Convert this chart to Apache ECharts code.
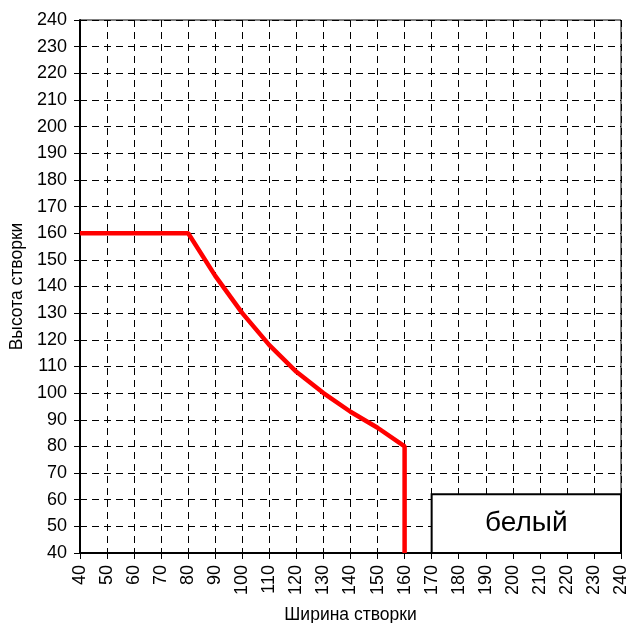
<!DOCTYPE html>
<html>
<head>
<meta charset="utf-8">
<script src="https://cdn.jsdelivr.net/npm/echarts@6/dist/echarts.min.js"></script>
<style>html,body{margin:0;padding:0;background:#fff;}#c{width:630px;height:623px;}</style>
</head>
<body>
<div id="c"></div>
<script>
var xName = 'Ширина створки';
var yName = 'Высота створки';
var widths = [40, 80, 90, 100, 110, 120, 130, 140, 150, 160, 160];
var heights = [160, 160, 144, 130, 118, 108, 100, 93, 87, 80, 40];
var boxLabel = 'белый';
var boxFrom = [170, 40];
var boxTo = [240, 62];

var lineData = widths.map(function (w, i) { return [w, heights[i]]; });
var font = 'Liberation Sans, Arial, sans-serif';
var chart = echarts.init(document.getElementById('c'));
chart.setOption({
  animation: false,
  backgroundColor: '#fff',
  grid: { left: 80, top: 20, right: 9, bottom: 70, containLabel: false, outerBoundsMode: 'none', show: true, borderColor: '#000', borderWidth: 1, backgroundColor: 'transparent' },
  xAxis: {
    type: 'value', min: 40, max: 240, interval: 10,
    name: xName, nameLocation: 'middle', nameGap: 53,
    nameTextStyle: { fontFamily: font, fontSize: 17.5, color: '#000' },
    axisLine: { show: true, onZero: false, lineStyle: { color: '#000', width: 2 } },
    axisTick: { show: true, length: 6, lineStyle: { color: '#000', width: 1 } },
    axisLabel: { rotate: 90, fontFamily: font, fontSize: 18, color: '#000', margin: 12 },
    splitLine: { show: true, lineStyle: { color: '#000', width: 1, type: [7, 5] } }
  },
  yAxis: {
    type: 'value', min: 40, max: 240, interval: 10,
    name: yName, nameLocation: 'middle', nameGap: 53,
    nameTextStyle: { fontFamily: font, fontSize: 17.5, color: '#000' },
    axisLine: { show: true, onZero: false, lineStyle: { color: '#000', width: 2 } },
    axisTick: { show: true, length: 6, lineStyle: { color: '#000', width: 1 } },
    axisLabel: { fontFamily: font, fontSize: 18, color: '#000', margin: 13 },
    splitLine: { show: true, lineStyle: { color: '#000', width: 1, type: [7, 5] } }
  },
  series: [{
    type: 'line',
    data: lineData,
    showSymbol: false,
    symbol: 'none',
    lineStyle: { color: '#ff0000', width: 4.5 },
    z: 3,
    markArea: {
      silent: true,
      itemStyle: { color: '#fff', borderColor: '#000', borderWidth: 2 },
      label: { show: true, position: 'inside', fontFamily: font, fontSize: 28, color: '#000' },
      data: [[{ name: boxLabel, coord: boxFrom }, { coord: boxTo }]]
    }
  }]
});
</script>
</body>
</html>
